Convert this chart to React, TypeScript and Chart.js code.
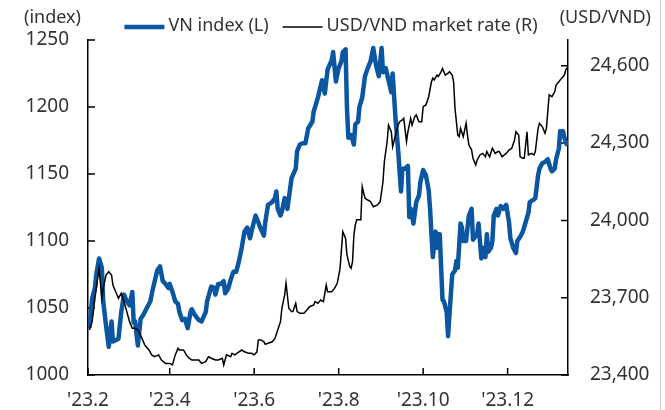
import React, { useEffect, useRef } from 'react';
import { Chart, registerables } from 'chart.js';

Chart.register(...registerables);

// Day offsets from 2023-02-01
const monthDays = [0, 59, 120, 181, 242, 303];
const monthLabels = ["'23.2", "'23.4", "'23.6", "'23.8", "'23.10", "'23.12"];
const leftTicks = [1000, 1050, 1100, 1150, 1200, 1250];
const rightTicks = [23400, 23700, 24000, 24300, 24600];

const vnLabel = 'VN index (L)';
const fxLabel = 'USD/VND market rate (R)';

const vnDays = [
  1, 3, 5, 6, 8, 10, 11, 13, 15, 17,
  18, 20, 22, 24, 26, 28, 30, 32, 33, 34,
  36, 38, 40, 42, 45, 47, 50, 52, 54, 56,
  58, 59, 61, 63, 65, 66, 68, 70, 72, 74,
  75, 77, 80, 82, 85, 86, 89, 91, 92, 94,
  96, 98, 99, 101, 103, 105, 107, 109, 111, 113,
  115, 117, 119, 121, 123, 124, 127, 128, 130, 133,
  135, 136, 137, 139, 140, 142, 144, 145, 147, 150,
  151, 153, 155, 157, 159, 162, 163, 164, 166, 169,
  171, 173, 176, 177, 179, 181, 183, 184, 186, 187,
  188, 190, 192, 193, 195, 196, 198, 200, 202, 204,
  206, 208, 210, 212, 213, 215, 217, 219, 220, 222,
  224, 226, 227, 229, 231, 232, 233, 235, 237, 239,
  240, 242, 244, 246, 247, 248, 249, 251, 252, 253,
  254, 255, 256, 257, 259, 260, 261, 263, 265, 266,
  267, 269, 270, 271, 273, 275, 277, 278, 281, 282,
  284, 285, 287, 288, 289, 291, 292, 293, 295, 296,
  298, 300, 302, 304, 305, 307, 309, 310, 312, 314,
  316, 318, 319, 322, 323, 325, 326, 328, 330, 332,
  334, 335, 337, 338, 340, 341, 342, 343, 344, 346,
];
const vnValues = [
  1035, 1057, 1065, 1075, 1087, 1080, 1055, 1037, 1021, 1040,
  1025, 1026, 1027, 1047, 1060, 1055, 1052, 1062, 1039, 1040,
  1022, 1042, 1045, 1049, 1055, 1065, 1078, 1081, 1070, 1068,
  1065, 1068, 1062, 1055, 1053, 1047, 1041, 1042, 1035, 1047,
  1049, 1045, 1041, 1040, 1047, 1055, 1066, 1065, 1060, 1068,
  1068, 1070, 1061, 1064, 1071, 1077, 1077, 1085, 1095, 1107,
  1110, 1102, 1111, 1119, 1114, 1111, 1104, 1114, 1127, 1129,
  1132, 1137, 1124, 1119, 1122, 1132, 1124, 1132, 1147, 1154,
  1167, 1172, 1173, 1173, 1184, 1189, 1197, 1200, 1207, 1220,
  1210, 1228, 1235, 1241, 1219, 1229, 1234, 1241, 1243, 1199,
  1177, 1179, 1172, 1187, 1189, 1200, 1207, 1223, 1229, 1234,
  1244, 1231, 1223, 1244, 1226, 1229, 1220, 1211, 1225, 1192,
  1167, 1137, 1154, 1154, 1156, 1118, 1124, 1113, 1129, 1134,
  1144, 1153, 1149, 1138, 1124, 1105, 1088, 1107, 1095, 1105,
  1105, 1080, 1056, 1055, 1047, 1029, 1045, 1075, 1078, 1085,
  1080, 1113, 1110, 1100, 1100, 1119, 1124, 1101, 1105, 1113,
  1087, 1095, 1088, 1105, 1092, 1095, 1100, 1119, 1124, 1119,
  1126, 1124, 1127, 1114, 1102, 1095, 1091, 1100, 1103, 1107,
  1114, 1121, 1129, 1131, 1132, 1149, 1154, 1158, 1159, 1161,
  1154, 1152, 1154, 1161, 1169, 1182, 1179, 1182, 1177, 1171,
];

const fxDays = [
  1, 3, 5, 6, 8, 10, 11, 13, 15, 17,
  18, 20, 22, 24, 26, 28, 30, 32, 34, 36,
  39, 41, 44, 46, 48, 51, 53, 56, 59, 61,
  63, 65, 66, 69, 71, 73, 75, 77, 80, 82,
  85, 87, 89, 92, 94, 97, 98, 100, 103, 104,
  106, 109, 111, 113, 116, 118, 120, 122, 123, 125,
  127, 128, 130, 133, 135, 137, 139, 140, 142, 143,
  145, 147, 148, 150, 151, 153, 156, 158, 160, 163,
  164, 166, 168, 170, 172, 173, 176, 178, 180, 182,
  184, 186, 187, 189, 190, 191, 192, 193, 194, 196,
  197, 198, 200, 202, 204, 206, 209, 211, 213, 214,
  216, 217, 219, 220, 222, 224, 225, 227, 228, 230,
  231, 233, 234, 236, 237, 239, 241, 242, 244, 246,
  248, 249, 250, 252, 253, 255, 256, 258, 260, 261,
  263, 264, 265, 267, 268, 269, 271, 273, 274, 275,
  277, 278, 280, 281, 283, 285, 287, 288, 290, 292,
  294, 296, 297, 299, 301, 302, 304, 306, 308, 309,
  311, 312, 314, 315, 317, 318, 320, 322, 323, 325,
  326, 328, 330, 331, 333, 335, 337, 338, 340, 342,
  344, 345, 346,
];
const fxValues = [
  23575, 23607, 23698, 23736, 23814, 23698, 23736, 23788, 23801, 23788,
  23749, 23723, 23698, 23717, 23685, 23646, 23607, 23581, 23581, 23575,
  23542, 23516, 23497, 23478, 23471, 23478, 23458, 23445, 23445, 23439,
  23478, 23504, 23497, 23497, 23478, 23465, 23458, 23458, 23458, 23445,
  23452, 23471, 23465, 23458, 23458, 23465, 23439, 23478, 23471, 23484,
  23478, 23490, 23497, 23490, 23484, 23484, 23478, 23490, 23536, 23536,
  23529, 23519, 23523, 23529, 23542, 23575, 23607, 23659, 23711, 23756,
  23659, 23646, 23646, 23678, 23646, 23640, 23640, 23652, 23665, 23672,
  23685, 23678, 23691, 23685, 23749, 23723, 23723, 23736, 23756, 23814,
  23956, 23930, 23866, 23821, 23814, 23840, 23943, 23982, 24002, 24002,
  24002, 24131, 24086, 24079, 24073, 24053, 24060, 24073, 24150, 24228,
  24306, 24370, 24344, 24286, 24331, 24370, 24383, 24390, 24396, 24306,
  24344, 24396, 24370, 24403, 24409, 24383, 24383, 24441, 24448, 24480,
  24538, 24552, 24545, 24564, 24558, 24577, 24590, 24564, 24571, 24577,
  24564, 24538, 24435, 24331, 24325, 24357, 24325, 24377, 24331, 24293,
  24273, 24241, 24215, 24234, 24254, 24260, 24247, 24267, 24247, 24280,
  24260, 24267, 24267, 24247, 24256, 24260, 24273, 24280, 24312, 24344,
  24331, 24247, 24241, 24241, 24344, 24254, 24260, 24254, 24267, 24357,
  24377, 24364, 24338, 24357, 24487, 24480, 24499, 24525, 24538, 24552,
  24564, 24584, 24593,
];

const BLUE = '#0b56a0';
const TEXT = '#333333';
const FONT_FAMILY = '"Noto Sans", sans-serif';
const TICK_LEN = 7;

// inward tick marks, drawn beneath the data lines
const innerTicksPlugin = {
  id: 'innerTicks',
  beforeDatasetsDraw(chart: any) {
    const ctx = chart.ctx;
    const { x, yL, yR } = chart.scales;
    const area = chart.chartArea;
    ctx.save();
    ctx.strokeStyle = '#000';
    ctx.lineWidth = 1.5;
    ctx.beginPath();
    monthDays.forEach((d) => {
      const px = x.getPixelForValue(d);
      ctx.moveTo(px, area.bottom);
      ctx.lineTo(px, area.bottom - TICK_LEN);
    });
    leftTicks.forEach((v) => {
      const py = yL.getPixelForValue(v);
      ctx.moveTo(area.left, py);
      ctx.lineTo(area.left + TICK_LEN, py);
    });
    rightTicks.forEach((v) => {
      const py = yR.getPixelForValue(v);
      ctx.moveTo(area.right, py);
      ctx.lineTo(area.right - TICK_LEN, py);
    });
    ctx.stroke();
    ctx.restore();
  },
};

const overlayPlugin = {
  id: 'overlay',
  afterDraw(chart: any) {
    const ctx = chart.ctx;
    const area = chart.chartArea;
    ctx.save();
    // frame line on the right
    ctx.strokeStyle = '#cccccc';
    ctx.lineWidth = 1;
    ctx.beginPath();
    ctx.moveTo(660.5, 0);
    ctx.lineTo(660.5, chart.height);
    ctx.stroke();

    ctx.fillStyle = TEXT;
    ctx.textBaseline = 'middle';
    ctx.font = `18px ${FONT_FAMILY}`;
    ctx.textAlign = 'left';
    ctx.fillText('(index)', 24, 18);
    ctx.textAlign = 'right';
    ctx.fillText('(USD/VND)', 651, 18);

    // legend
    const ds = chart.data.datasets;
    const lineLen = 40;
    const gapAfterLine = 4;
    const gapBetween = 14;
    const widths = ds.map((d: any) => ctx.measureText(d.label).width);
    const total = widths.reduce((a: number, w: number) => a + w + lineLen + gapAfterLine, 0) + gapBetween * (ds.length - 1);
    let lx = (area.left + area.right) / 2 - total / 2 + 3;
    const y = 26;
    ds.forEach((d: any, i: number) => {
      ctx.strokeStyle = d.borderColor;
      ctx.lineWidth = d.borderWidth;
      ctx.beginPath();
      ctx.moveTo(lx, y + 1);
      ctx.lineTo(lx + lineLen, y + 1);
      ctx.stroke();
      lx += lineLen + gapAfterLine;
      ctx.textAlign = 'left';
      ctx.fillStyle = TEXT;
      ctx.fillText(d.label, lx, y);
      lx += widths[i] + gapBetween;
    });
    ctx.restore();
  },
};

export default function App() {
  const canvasRef = useRef<HTMLCanvasElement | null>(null);

  useEffect(() => {
    const canvas = canvasRef.current;
    if (!canvas) return;
    const tickFont = { family: FONT_FAMILY, size: 19 };
    const noGrid = { display: false, drawTicks: false, drawOnChartArea: false, tickLength: 0 };
    const chart = new Chart(canvas, {
      type: 'line',
      data: {
        datasets: [
          {
            label: vnLabel,
            data: vnDays.map((d, i) => ({ x: d, y: vnValues[i] })),
            yAxisID: 'yL',
            borderColor: BLUE,
            borderWidth: 4.5,
            pointRadius: 0,
            tension: 0,
            borderJoinStyle: 'round',
            order: 2,
          },
          {
            label: fxLabel,
            data: fxDays.map((d, i) => ({ x: d, y: fxValues[i] })),
            yAxisID: 'yR',
            borderColor: '#000000',
            borderWidth: 1.5,
            pointRadius: 0,
            tension: 0,
            order: 1,
          },
        ],
      },
      options: {
        animation: false,
        responsive: false,
        devicePixelRatio: 1,
        layout: { padding: { top: 40, left: 0, right: 0, bottom: 0 } },
        plugins: { legend: { display: false }, tooltip: { enabled: false } },
        scales: {
          x: {
            type: 'linear',
            min: 0,
            max: 346.6,
            afterBuildTicks: (s: any) => {
              s.ticks = monthDays.map((v) => ({ value: v }));
            },
            afterFit: (s: any) => {
              s.height = 35;
            },
            ticks: {
              callback: (_v: any, i: number) => monthLabels[i],
              font: tickFont,
              color: TEXT,
              padding: 14,
              maxRotation: 0,
              autoSkip: false,
            },
            grid: noGrid,
            border: { color: '#000', width: 1.5 },
          },
          yL: {
            type: 'linear',
            position: 'left',
            min: 1000,
            max: 1250,
            afterBuildTicks: (s: any) => {
              s.ticks = leftTicks.map((v) => ({ value: v }));
            },
            afterFit: (s: any) => {
              s.width = 88;
            },
            ticks: { font: tickFont, color: TEXT, padding: 19, callback: (v: any) => String(v) },
            grid: noGrid,
            border: { color: '#000', width: 1.5 },
          },
          yR: {
            type: 'linear',
            position: 'right',
            min: 23400,
            max: 24700,
            afterBuildTicks: (s: any) => {
              s.ticks = rightTicks.map((v) => ({ value: v }));
            },
            afterFit: (s: any) => {
              s.width = 97;
            },
            ticks: {
              font: tickFont,
              color: TEXT,
              padding: 22,
              callback: (v: any) => Number(v).toLocaleString('en-US'),
            },
            grid: noGrid,
            border: { color: '#000', width: 1.5 },
          },
        },
      },
      plugins: [innerTicksPlugin, overlayPlugin],
    } as any);
    return () => chart.destroy();
  }, []);

  return (
    <div style={{ position: 'absolute', left: 0, top: 0, width: 665, height: 410, background: '#fff' }}>
      <canvas ref={canvasRef} width={665} height={410} style={{ width: 665, height: 410, display: 'block' }} />
    </div>
  );
}
